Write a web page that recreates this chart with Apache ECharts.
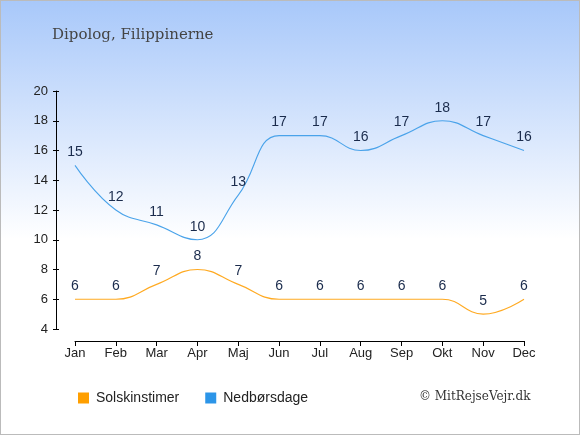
<!DOCTYPE html>
<html>
<head>
<meta charset="utf-8">
<script src="https://cdn.jsdelivr.net/npm/echarts@6/dist/echarts.min.js"></script>
<style>
  html, body { margin: 0; padding: 0; }
  #chart { width: 580px; height: 435px; box-sizing: border-box; border: 1px solid #bbb; }
</style>
</head>
<body>
<div id="chart"></div>
<script>
// maaneder og vaerdier
const months = ['Jan', 'Feb', 'Mar', 'Apr', 'Maj', 'Jun', 'Jul', 'Aug', 'Sep', 'Okt', 'Nov', 'Dec'];
const sunHours = [6, 6, 7, 8, 7, 6, 6, 6, 6, 6, 5, 6];
const rainDays = [15, 12, 11, 10, 13, 17, 17, 16, 17, 18, 17, 16];

const chart = echarts.init(document.getElementById('chart'));

const labelStyle = {
  show: true,
  position: 'top',
  distance: 6,
  color: '#1a2b4c',
  fontSize: 14,
  fontFamily: 'Liberation Sans, Arial, sans-serif'
};

const option = {
  backgroundColor: {
    type: 'linear', x: 0, y: 0, x2: 0, y2: 1,
    colorStops: [
      { offset: 0, color: '#a8c8fa' },
      { offset: 0.55, color: '#ffffff' },
      { offset: 1, color: '#ffffff' }
    ]
  },
  animation: false,
  title: {
    text: 'Dipolog, Filippinerne',
    left: 46,
    top: 22,
    textStyle: { fontFamily: 'DejaVu Serif, serif', fontWeight: 'normal', fontSize: 15, color: '#444' }
  },
  legend: {
    bottom: 24,
    left: 72,
    itemWidth: 11,
    itemHeight: 11,
    itemGap: 26,
    icon: 'rect',
    textStyle: { fontFamily: 'Liberation Sans, Arial, sans-serif', fontSize: 14, color: '#222', padding: [0, 0, 0, 2] },
    data: [
      { name: 'Solskinstimer', itemStyle: { color: '#ff9f00', opacity: 1 } },
      { name: 'Nedbørsdage', itemStyle: { color: '#2c95e8', opacity: 1 } }
    ]
  },
  graphic: [{
    type: 'text',
    left: 418,
    top: 390,
    style: { text: '© MitRejseVejr.dk', font: '12px "DejaVu Serif", serif', fill: '#333' }
  }],
  grid: { left: 74, right: 55, top: 90, bottom: 105 },
  xAxis: {
    type: 'category',
    data: months,
    boundaryGap: false,
    offset: 12,
    axisLine: { lineStyle: { color: '#000', width: 1 } },
    axisTick: { length: 5, lineStyle: { color: '#000' } },
    axisLabel: { color: '#222', fontSize: 13, margin: 6, fontFamily: 'Liberation Sans, Arial, sans-serif' },
    splitLine: { show: false }
  },
  yAxis: [{
    type: 'value',
    min: 4, max: 20, interval: 2,
    offset: 19,
    axisLine: { show: true, lineStyle: { color: '#000', width: 1 } },
    axisTick: { show: true, length: 3, lineStyle: { color: '#000' } },
    axisLabel: { color: '#222', fontSize: 13, margin: 8, fontFamily: 'Liberation Sans, Arial, sans-serif' },
    splitLine: { show: false }
  }, {
    type: 'value',
    position: 'left',
    min: 4, max: 20, interval: 2,
    offset: 19,
    axisLine: { show: false },
    axisTick: { show: true, inside: true, length: 3, lineStyle: { color: '#000' } },
    axisLabel: { show: false },
    splitLine: { show: false }
  }],
  series: [{
    name: 'Solskinstimer',
    type: 'line',
    data: sunHours,
    smooth: 0.45,
    symbol: 'circle',
    symbolSize: 0.01,
    showSymbol: true,
    color: '#ff9f00',
    lineStyle: { color: '#ffaa22', width: 1.1 },
    label: labelStyle
  }, {
    name: 'Nedbørsdage',
    type: 'line',
    data: rainDays,
    smooth: 0.45,
    symbol: 'circle',
    symbolSize: 0.01,
    showSymbol: true,
    color: '#2c95e8',
    lineStyle: { color: '#4aa3ea', width: 1.1 },
    label: labelStyle
  }]
};

chart.setOption(option);
</script>
</body>
</html>
